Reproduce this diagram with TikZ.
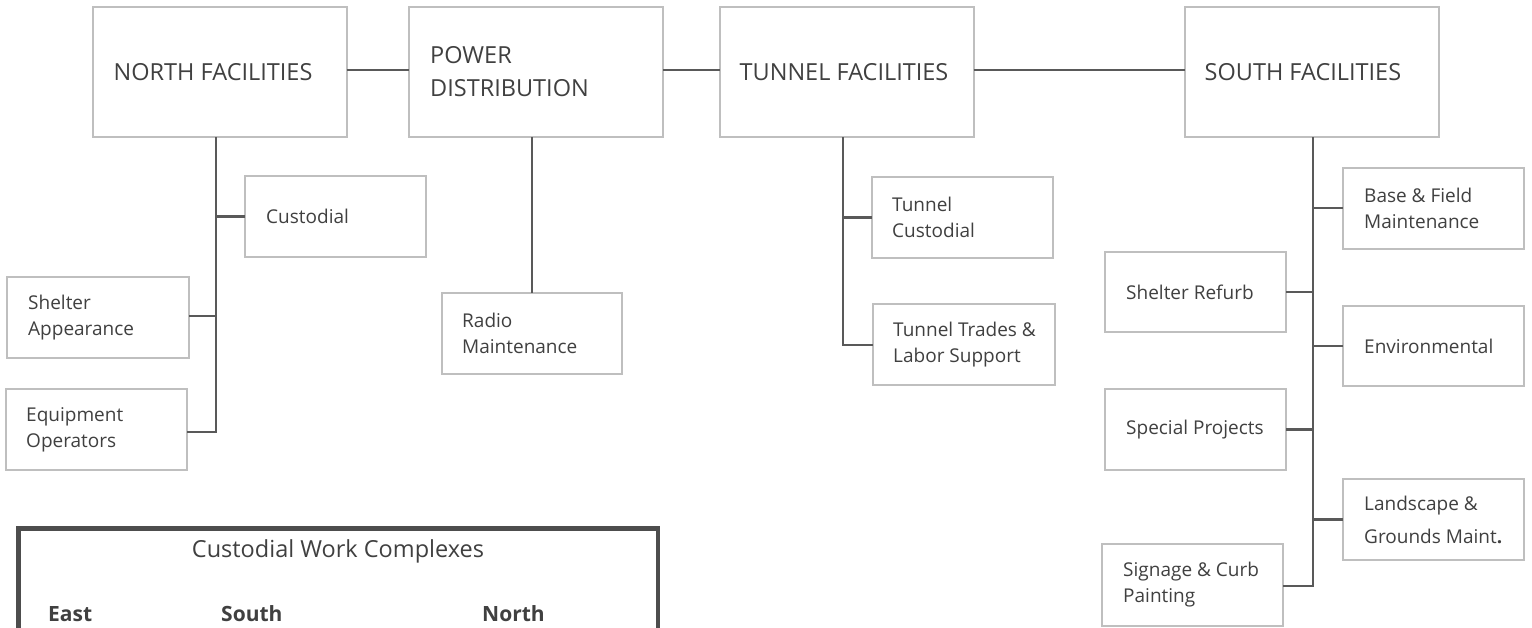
\documentclass[tikz,border=0pt]{standalone}
\usepackage{fontspec}
\setmainfont{Open Sans}
\definecolor{boxgray}{HTML}{BFBFBF}
\definecolor{linegray}{HTML}{595959}
\definecolor{txtgray}{HTML}{404040}
\definecolor{framegray}{HTML}{4D4D4D}
\begin{document}
\begin{tikzpicture}[x=1pt,y=-1pt,
  box/.style={draw=boxgray, line width=2pt, outer sep=0pt, inner sep=0pt, fill=white},
  topbox/.style={box, minimum width=254pt, minimum height=130pt},
  subbox/.style={box, minimum width=181pt, minimum height=81pt},
  toptext/.style={anchor=west, inner sep=0pt, text=txtgray, align=left, font=\fontsize{23.5}{33}\selectfont},
  subtext/.style={anchor=west, inner sep=0pt, text=txtgray, align=left, font=\fontsize{19}{26}\selectfont},
  link/.style={draw=linegray, line width=2.2pt},
  hdr/.style={anchor=base west, inner sep=0pt, text=txtgray, font=\fontsize{21}{25}\selectfont\bfseries}
]
\useasboundingbox (0,0) rectangle (1532,627);
\fill[white] (0,0) rectangle (1532,627);

% top level boxes
\node[topbox] (north) at (219.5,72) {};
\node[toptext] (northT) at ([xshift=21pt]north.west) {NORTH FACILITIES};
\node[topbox] (power) at (536,72) {};
\node[toptext] (powerT) at ([xshift=21pt]power.west) {POWER\\DISTRIBUTION};
\node[topbox] (tunnel) at (846.5,72) {};
\node[toptext] (tunnelT) at ([xshift=20pt]tunnel.west) {TUNNEL FACILITIES};
\node[topbox] (south) at (1311.5,72) {};
\node[toptext] (southT) at ([xshift=20pt]south.west) {SOUTH FACILITIES};

\draw[link] ([yshift=2pt]north.east) -- ([yshift=2pt]power.west);
\draw[link] ([yshift=2pt]power.east) -- ([yshift=2pt]tunnel.west);
\draw[link] ([yshift=2pt]tunnel.east) -- ([yshift=2pt]south.west);

% north branch
\node[subbox] (cust) at (335.5,216.5) {};
\node[subtext] (custT) at ([xshift=21pt]cust.west) {Custodial};
\node[subbox, minimum width=182pt] (sapp) at (98,317.5) {};
\node[subtext] (sappT) at ([xshift=21pt]sapp.west) {Shelter\\Appearance};
\node[subbox] (equip) at (96.5,429.5) {};
\node[subtext] (equipT) at ([xshift=20pt]equip.west) {Equipment\\Operators};
\coordinate (nEnd) at (216,432);
\draw[link] (north.south -| nEnd) -- (nEnd) -- ([yshift=-2.5pt]equip.east);
\draw[link] (cust.west -| nEnd) -- (cust.west);
\draw[link] ([yshift=1.5pt]sapp.east) -- ([yshift=1.5pt]sapp.east -| nEnd);

% power branch
\node[subbox, minimum width=180pt] (radio) at (532,333.5) {};
\node[subtext] (radioT) at ([xshift=20pt]radio.west) {Radio\\Maintenance};
\draw[link] (radio.north |- power.south) -- (radio.north);

% tunnel branch
\node[subbox] (tcust) at (962.5,217.5) {};
\node[subtext] (tcustT) at ([xshift=20pt]tcust.west) {Tunnel\\Custodial};
\node[subbox, minimum width=182pt] (trades) at (964,344.5) {};
\node[subtext] (tradesT) at ([xshift=20pt]trades.west) {Tunnel Trades \&\\Labor Support};
\coordinate (tEnd) at (843,345);
\draw[link] (tunnel.south -| tEnd) -- (tEnd) -- (trades.west |- tEnd);
\draw[link] (tcust.west -| tEnd) -- (tcust.west);

% south branch
\node[subbox] (base) at (1433.5,208) {};
\node[subtext] (baseT) at ([xshift=21pt]base.west) {Base \& Field\\Maintenance};
\node[subbox, minimum height=80pt] (refurb) at (1195.5,292) {};
\node[subtext] (refurbT) at ([xshift=21pt]refurb.west) {Shelter Refurb};
\node[subbox, minimum height=80pt] (env) at (1433.5,346) {};
\node[subtext] (envT) at ([xshift=21pt]env.west) {Environmental};
\node[subbox] (spec) at (1195.5,429.5) {};
\node[subtext] (specT) at ([xshift=21pt]spec.west) {Special Projects};
\node[subbox] (land) at (1433.5,519.5) {};
\node[subtext, font=\fontsize{19}{33}\selectfont] (landT) at ([xshift=21pt]land.west) {Landscape \&\\Grounds Maint\textbf{.}};
\node[subbox, minimum height=82pt] (sign) at (1192.5,585) {};
\node[subtext] (signT) at ([xshift=21pt]sign.west) {Signage \& Curb\\Painting};
\coordinate (sEnd) at (1313,586);
\draw[link] (south.south -| sEnd) -- (sEnd) -- ([yshift=-1pt]sign.east);
\draw[link] (base.west -| sEnd) -- (base.west);
\draw[link] (refurb.east) -- (refurb.east -| sEnd);
\draw[link] (env.west -| sEnd) -- (env.west);
\draw[link] (spec.east) -- (spec.east -| sEnd);
\draw[link] (land.west -| sEnd) -- (land.west);

% custodial work complexes frame
\draw[draw=framegray, line width=4.5pt] (18.5,645) -- (18.5,528.5) -- (658,528.5) -- (658,645);
\node[anchor=base, inner sep=0pt, text=txtgray, font=\fontsize{23.5}{28}\selectfont] (cwcT) at (338,557) {Custodial Work Complexes};
\node[hdr] (eastH) at (48,621) {East};
\node[hdr] (southH) at (221,621) {South};
\node[hdr] (northH) at (482,621) {North};
\end{tikzpicture}
\end{document}
